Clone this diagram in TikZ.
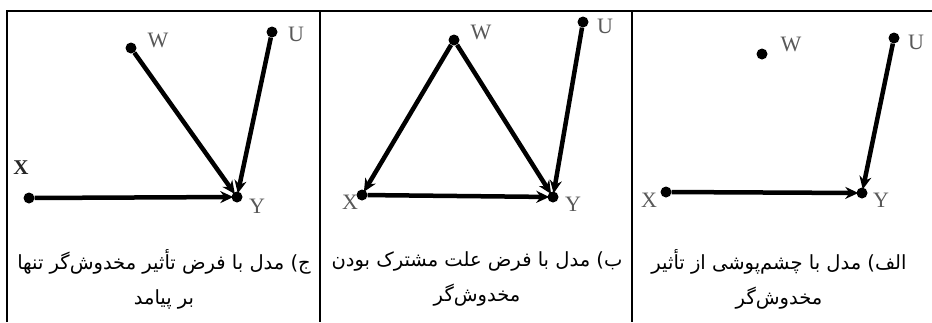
\documentclass[tikz,border=0pt]{standalone}
\usepackage{fontspec}
\setmainfont{Liberation Serif}
\newfontfamily\arabicfont[Script=Arabic]{DejaVu Sans}
\TeXXeTstate=1
\usetikzlibrary{arrows.meta}
\tikzset{
  dot/.style={circle,fill=black,inner sep=0pt,minimum size=11bp},
  lbl/.style={text=black!65,font=\fontsize{22bp}{22bp}\selectfont,inner sep=0pt},
  xlbl/.style={text=black!85,font=\bfseries\fontsize{21bp}{21bp}\selectfont,inner sep=0pt},
  edge/.style={line width=4.5bp,-{Stealth[length=13bp,width=12bp]},shorten >=-2bp},
  frame/.style={line width=2bp},
  captxt/.style={font=\arabicfont\fontsize{19.5bp}{24bp}\selectfont,align=center,inner sep=0pt}
}
\begin{document}
\begin{tikzpicture}[x=1bp,y=-1bp]
\useasboundingbox[fill=white] (0,0) rectangle (932,322);
% frame
\draw[frame] (7,322) -- (7,11) -- (932,11);
\draw[frame] (320,11) -- (320,322);
\draw[frame] (632,11) -- (632,322);
% panel c (left)
\node[dot] (cW) at (131,48) {};
\node[dot] (cU) at (272,32) {};
\node[dot] (cX) at (29,198) {};
\node[dot] (cY) at (237,197) {};
\node[lbl] (cWl) at (158,40) {W};
\node[lbl] (cUl) at (296,34) {U};
\node[xlbl] (cXl) at (21,168) {X};
\node[lbl] (cYl) at (257,206) {Y};
\draw[edge] (cX) -- (cY);
\draw[edge] (cW) -- (cY);
\draw[edge] (cU) -- (cY);
% panel b (middle)
\node[dot] (bW) at (454,40) {};
\node[dot] (bU) at (583,22) {};
\node[dot] (bX) at (362,195) {};
\node[dot] (bY) at (553,197) {};
\node[lbl] (bWl) at (481,32) {W};
\node[lbl] (bUl) at (605,26) {U};
\node[lbl] (bXl) at (350,202) {X};
\node[lbl] (bYl) at (573,204) {Y};
\draw[edge] (bW) -- (bX);
\draw[edge] (bW) -- (bY);
\draw[edge] (bX) -- (bY);
\draw[edge] (bU) -- (bY);
% panel a (right)
\node[dot] (aW) at (762,54) {};
\node[dot] (aU) at (894,38) {};
\node[dot] (aX) at (666,192) {};
\node[dot] (aY) at (862,193) {};
\node[lbl] (aWl) at (791,44) {W};
\node[lbl] (aUl) at (916,42) {U};
\node[lbl] (aXl) at (649,200) {X};
\node[lbl] (aYl) at (881,200) {Y};
\draw[edge] (aX) -- (aY);
\draw[edge] (aU) -- (aY);
% captions
\node[captxt] (cc) at (164,279) {\beginR ج) مدل با فرض تأثیر مخدوش‌گر تنها\endR\\[11bp]\beginR بر پیامد\endR};
\node[captxt] (bc) at (477,279) {\beginR ب) مدل با فرض علت مشترک بودن\endR\\[11bp]\beginR مخدوش‌گر\endR};
\node[captxt] (ac) at (779,279) {\beginR الف) مدل با چشم‌پوشی از تأثیر\endR\\[11bp]\beginR مخدوش‌گر\endR};
\end{tikzpicture}
\end{document}
